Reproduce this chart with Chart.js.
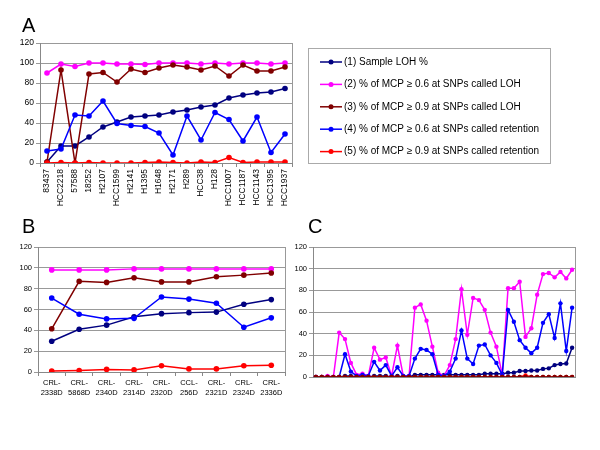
<!DOCTYPE html>
<html>
<head>
<meta charset="utf-8">
<script src="https://cdn.jsdelivr.net/npm/chart.js@4/dist/chart.umd.min.js"></script>
<style>
body { margin: 0; background: #fff; }
#wrap { position: relative; width: 600px; height: 450px; }
canvas { position: absolute; }
</style>
</head>
<body>
<div id="wrap">
  <canvas id="chartA" style="left:0;top:0;width:600px;height:230px" width="600" height="230"></canvas>
  <canvas id="chartB" style="left:0;top:205px;width:295px;height:200px" width="295" height="200"></canvas>
  <canvas id="chartC" style="left:290px;top:205px;width:310px;height:200px" width="310" height="200"></canvas>
</div>
<script>
const seriesNames = [
    '(1) Sample LOH %',
    '(2) % of MCP \u2265 0.6 at SNPs called LOH',
    '(3) % of MCP \u2265 0.9 at SNPs called LOH',
    '(4) % of MCP \u2265 0.6 at SNPs called retention',
    '(5) % of MCP \u2265 0.9 at SNPs called retention'
]
const seriesColors = ['#000080', '#ff00ff', '#800000', '#0000ff', '#ff0000']
const yTicks = [0, 20, 40, 60, 80, 100, 120]

// panel A
const samplesA = ['83437', 'HCC2218', '57588', '18252', 'H2107', 'HCC1599', 'H2141', 'H1395', 'H1648',
    'H2171', 'H289', 'HCC38', 'H128', 'HCC1007', 'HCC1187', 'HCC1143', 'HCC1395', 'HCC1937']
const lohA = [1, 17, 17, 26, 36, 41, 46, 47, 48, 51, 53, 56, 58, 65, 68, 70, 71, 74.5]
const mcp06LohA = [90, 99, 96.5, 100, 100, 99, 99, 98.5, 100, 100, 100, 99, 100, 99, 100, 100, 99, 100]
const mcp09LohA = [1, 93, 0, 89, 90.5, 81, 94, 90.5, 95, 98, 96, 93, 97, 87, 98, 92, 92, 96]
const mcp06RetA = [12, 14, 48, 47, 62, 39.5, 37.5, 36.5, 30, 8, 47, 23, 50.5, 43.5, 22, 46, 10.5, 29]
const mcp09RetA = [0, 0.5, 0, 0.5, 0, 0, 0, 0.5, 1, 0.5, 0, 1, 0.5, 5.5, 0.5, 1, 1, 1]

// panel B
const samplesB = [['CRL-', '2338D'], ['CRL-', '5868D'], ['CRL-', '2340D'], ['CRL-', '2314D'], ['CRL-', '2320D'],
    ['CCL-', '256D'], ['CRL-', '2321D'], ['CRL-', '2324D'], ['CRL-', '2336D']]
const lohB = [29.5, 41, 45, 53, 56, 57, 57.5, 65, 69.5]
const mcp06LohB = [98, 98, 98, 99, 99, 99, 99, 99, 99]
const mcp09LohB = [41.5, 87, 86, 90.5, 86.5, 86.5, 91.5, 93, 95]
const mcp06RetB = [71, 55.5, 51, 51.5, 72, 70, 66, 43, 52]
const mcp09RetB = [1, 1.5, 2.5, 2, 6, 3, 3, 6, 6.5]

// panel C (no sample names shown)
const samplesC = ['1', '2', '3', '4', '5', '6', '7', '8', '9', '10', '11', '12', '13', '14', '15',
    '16', '17', '18', '19', '20', '21', '22', '23', '24', '25', '26', '27', '28', '29', '30',
    '31', '32', '33', '34', '35', '36', '37', '38', '39', '40', '41', '42', '43', '44', '45']
const lohC = [0, 0, 0, 0, 0, 1, 1, 0, 1, 0, 1, 1, 1, 0, 1, 0, 0,
    2, 2, 2, 2, 2, 2, 2, 2, 2, 2, 2, 2, 3, 3, 3, 3,
    4, 4, 5.5, 5.5, 6, 6, 7.5, 8, 11, 12, 12.5, 27]
const mcp06LohC = [0, 0, 1, 0, 41, 35, 13, 2, 3, 1, 27, 16, 18, 1, 29, 1, 1, 64, 67, 52, 28, 4, 1,
    11, 35, 81, 39, 73, 71, 62, 41, 28, 2, 82, 82, 88, 37, 45, 76, 95, 96, 92, 97, 91, 99]
const mcp09LohC = [0, 0, 0, 0, 0, 0, 0, 0, 0, 0, 0, 0, 0, 0, 0, 0, 0, 0, 0, 0, 0, 0, 0,
    0, 0, 0, 0, 0, 0, 0, 0, 0, 0, 0, 0, 0, 0, 0, 0, 0, 0, 0, 0, 0, 0]
const mcp06RetC = [0, 0, 0, 0, 0, 21, 5, 1, 2, 1, 14, 6, 11, 1, 9, 1, 1, 17, 26, 25, 21, 2, 1,
    5, 17, 43, 17, 12, 29, 30, 20, 13, 2, 62, 51, 34, 27, 22, 27, 50, 58, 36, 68, 24, 64]
const mcp09RetC = [0, 0, 0, 0, 0, 0, 0, 0, 0, 0, 0, 0, 0, 0, 0, 0, 0, 0, 0, 0, 0, 0, 0,
    0, 0, 0, 0, 0, 0, 0, 0, 0, 0, 0, 0, 0, 1.5, 0, 0, 0, 0, 0, 0, 0, 0]

const FONT = '"Liberation Sans", Arial, sans-serif'

// draws the panel letter, the plot frame and (for A) the legend box
const framePlugin = {
    id: 'frame',
    afterDraw(chart, args, opts) {
        const c = chart.ctx
        const a = chart.chartArea
        c.save()
        c.strokeStyle = '#999'
        c.lineWidth = 1
        c.beginPath()
        c.moveTo(Math.round(a.right) + 0.5, a.top)
        c.lineTo(Math.round(a.right) + 0.5, a.bottom)
        c.stroke()
        c.fillStyle = '#000'
        c.font = '20px ' + FONT
        c.textBaseline = 'alphabetic'
        c.fillText(opts.letter, opts.lx, opts.ly)
        if (opts.legend) {
            c.strokeStyle = '#aaa'
            c.strokeRect(308.5, 48.5, 242, 115)
            c.font = '10px ' + FONT
            c.textBaseline = 'middle'
            chart.data.datasets.forEach((ds, i) => {
                const y = 62 + i * 22.4
                c.strokeStyle = ds.borderColor
                c.lineWidth = 1.5
                c.beginPath()
                c.moveTo(320, y)
                c.lineTo(342, y)
                c.stroke()
                c.fillStyle = ds.borderColor
                c.beginPath()
                c.arc(331, y, 2.5, 0, Math.PI * 2)
                c.fill()
                c.fillStyle = '#000'
                c.fillText(ds.label, 344, y)
            })
        }
        c.restore()
    }
}

function lineChart(id, labels, values, cfg) {
    const ctx = document.getElementById(id).getContext('2d')
    return new Chart(ctx, {
        type: 'line',
        data: {
            labels: labels,
            datasets: values.map((v, i) => ({
                label: seriesNames[i],
                data: v,
                borderColor: seriesColors[i],
                backgroundColor: seriesColors[i],
                borderWidth: 1.5,
                pointRadius: cfg.r,
                pointBorderWidth: 0,
                tension: 0,
                order: cfg.order[i]
            }))
        },
        options: {
            responsive: false,
            animation: false,
            layout: { padding: cfg.pad },
            plugins: {
                legend: { display: false },
                tooltip: { enabled: false },
                frame: { letter: cfg.letter, lx: cfg.lx, ly: cfg.ly, legend: cfg.legend }
            },
            scales: {
                x: {
                    offset: true,
                    afterFit: s => { s.height = cfg.xh },
                    grid: { display: true, drawOnChartArea: false, offset: true, color: '#888', tickLength: cfg.xTicks ? 4 : 0 },
                    border: { color: '#888' },
                    ticks: {
                        display: cfg.xTicks,
                        autoSkip: false,
                        minRotation: cfg.rot,
                        maxRotation: cfg.rot,
                        padding: 2,
                        color: '#000',
                        font: { family: FONT, size: cfg.fs, lineHeight: 1.3 }
                    }
                },
                y: {
                    min: 0,
                    max: 120,
                    afterFit: s => { s.width = cfg.yw },
                    afterBuildTicks: s => { s.ticks = yTicks.map(v => ({ value: v })) },
                    grid: { color: '#999', tickLength: 4 },
                    border: { color: '#888' },
                    ticks: {
                        padding: 2,
                        color: '#000',
                        font: { family: FONT, size: cfg.fs }
                    }
                }
            }
        },
        plugins: [framePlugin]
    })
}

const chartA = lineChart('chartA', samplesA, [lohA, mcp06LohA, mcp09LohA, mcp06RetA, mcp09RetA], {
    pad: { left: 0, right: 308, top: 43, bottom: 0 }, yw: 40, xh: 67, fs: 8.5, rot: 90, xTicks: true,
    r: 2.8, order: [5, 4, 3, 2, 1], letter: 'A', lx: 22, ly: 32, legend: true
})
const chartB = lineChart('chartB', samplesB, [lohB, mcp06LohB, mcp09LohB, mcp06RetB, mcp09RetB], {
    pad: { left: 0, right: 10, top: 42, bottom: 0 }, yw: 38, xh: 33, fs: 7.5, rot: 0, xTicks: true,
    r: 2.8, order: [5, 4, 3, 2, 1], letter: 'B', lx: 22, ly: 28, legend: false
})
const chartC = lineChart('chartC', samplesC, [lohC, mcp06LohC, mcp09LohC, mcp06RetC, mcp09RetC], {
    pad: { left: 0, right: 25, top: 42, bottom: 0 }, yw: 23, xh: 28, fs: 7.5, rot: 0, xTicks: false,
    r: 2.2, order: [4, 3, 0, 2, 1], letter: 'C', lx: 18, ly: 28, legend: false
})
</script>
</body>
</html>
